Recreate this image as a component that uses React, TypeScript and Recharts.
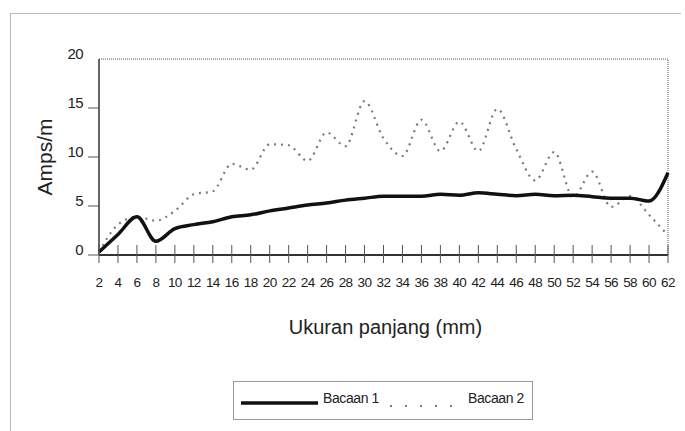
import React from 'react';
import { LineChart, Line, XAxis, YAxis, ReferenceLine, Label } from 'recharts';

const panjang = [2, 4, 6, 8, 10, 12, 14, 16, 18, 20, 22, 24, 26, 28, 30, 32, 34, 36, 38, 40, 42, 44, 46, 48, 50, 52, 54, 56, 58, 60, 62];
const bacaan1 = [0.3, 2.1, 3.9, 1.4, 2.7, 3.1, 3.4, 3.9, 4.1, 4.5, 4.8, 5.1, 5.3, 5.6, 5.8, 6.0, 6.0, 6.0, 6.2, 6.1, 6.35, 6.2, 6.05, 6.2, 6.05, 6.1, 5.95, 5.8, 5.8, 5.5, 8.4];
const bacaan2 = [0.3, 3.1, 3.9, 3.5, 4.5, 6.2, 6.5, 9.3, 8.7, 11.3, 11.2, 9.6, 12.5, 11.1, 15.7, 11.9, 10.1, 13.8, 10.6, 13.6, 10.6, 14.9, 10.8, 7.6, 10.5, 5.9, 8.5, 4.9, 6.0, 4.1, 2.0];
const yTicks = [0, 5, 10, 15, 20];

const data = panjang.map((mm, i) => ({ mm, bacaan1: bacaan1[i], bacaan2: bacaan2[i] }));

const sans = "'Liberation Sans', Arial, sans-serif";

const XTick = (props: any) => {
  const { x, y, payload } = props;
  return (
    <g>
      <line x1={x} x2={x} y1={y - 10} y2={y + 8} stroke="#555" strokeWidth={1} />
      <text x={x} y={y + 27} textAnchor="middle" dominantBaseline="central" fontSize={13.5} letterSpacing={-0.6} fontFamily={sans} fill="#222">
        {payload.value}
      </text>
    </g>
  );
};

const YTick = (props: any) => {
  const { x, y, payload } = props;
  return (
    <g>
      {payload.value !== 20 && <line x1={x - 11} x2={x} y1={y} y2={y} stroke="#555" strokeWidth={1} />}
      <text x={x - 16} y={y - 6} textAnchor="end" dominantBaseline="central" fontSize={15} letterSpacing={-0.6} fontFamily={sans} fill="#222">
        {payload.value}
      </text>
    </g>
  );
};

const App = () => {
  return (
    <div style={{ position: 'absolute', left: 0, top: 0, width: 685, height: 431, background: '#fff', overflow: 'hidden' }}>
      <div style={{ position: 'absolute', left: 10, top: 13, width: 670, height: 430, borderTop: '1px solid #bbb', borderLeft: '1px solid #bbb' }} />
      <LineChart width={685} height={431} data={data} margin={{ top: 59, right: 17, bottom: 146, left: 0 }}>
        <XAxis
          dataKey="mm"
          scale="point"
          padding={{ left: 0, right: 0 }}
          height={30}
          tickSize={0}
          tickMargin={0}
          tick={<XTick />}
          interval={0}
          axisLine={{ stroke: '#333', strokeWidth: 2 }}
        >
          <Label
            content={(p: any) => (
              <text x={p.viewBox.x + p.viewBox.width / 2 + 2} y={327} textAnchor="middle" dominantBaseline="central" fontSize={20} fontFamily={sans} fill="#222">
                Ukuran panjang (mm)
              </text>
            )}
          />
        </XAxis>
        <YAxis
          domain={[0, 20]}
          ticks={yTicks}
          width={99}
          tickSize={0}
          tickMargin={0}
          tick={<YTick />}
          axisLine={{ stroke: '#333', strokeWidth: 1.5 }}
        >
          <Label
            content={() => (
              <text x={44} y={157} transform="rotate(-90 44 157)" textAnchor="middle" dominantBaseline="central" fontSize={21} fontFamily={sans} fill="#222">
                Amps/m
              </text>
            )}
          />
        </YAxis>
        <ReferenceLine y={20} stroke="#aaa" strokeWidth={2} strokeDasharray="1 1" />
        <ReferenceLine x={62} stroke="#aaa" strokeWidth={2} strokeDasharray="1 1" />
        <Line
          type="monotone"
          dataKey="bacaan2"
          name="Bacaan 2"
          stroke="#7a7a7a"
          strokeWidth={2.2}
          strokeDasharray="2 5"
          dot={false}
          isAnimationActive={false}
        />
        <Line
          type="monotone"
          dataKey="bacaan1"
          name="Bacaan 1"
          stroke="#111"
          strokeWidth={3.5}
          dot={false}
          isAnimationActive={false}
        />
      </LineChart>
      <div style={{ position: 'absolute', left: 233, top: 381, width: 300, height: 39, border: '1px solid #999', boxSizing: 'border-box' }}>
        <svg width={298} height={37} style={{ position: 'absolute', left: 0, top: 0 }}>
          <line x1={7} x2={84} y1={21} y2={21} stroke="#111" strokeWidth={3.5} />
          <text x={89} y={16} dominantBaseline="central" fontSize={14} letterSpacing={-0.4} fontFamily={sans} fill="#222">Bacaan 1</text>
          <line x1={156} x2={230} y1={24} y2={24} stroke="#7a7a7a" strokeWidth={2} strokeDasharray="2 13" />
          <text x={234} y={16} dominantBaseline="central" fontSize={14} letterSpacing={-0.4} fontFamily={sans} fill="#222">Bacaan 2</text>
        </svg>
      </div>
    </div>
  );
};

export default App;
